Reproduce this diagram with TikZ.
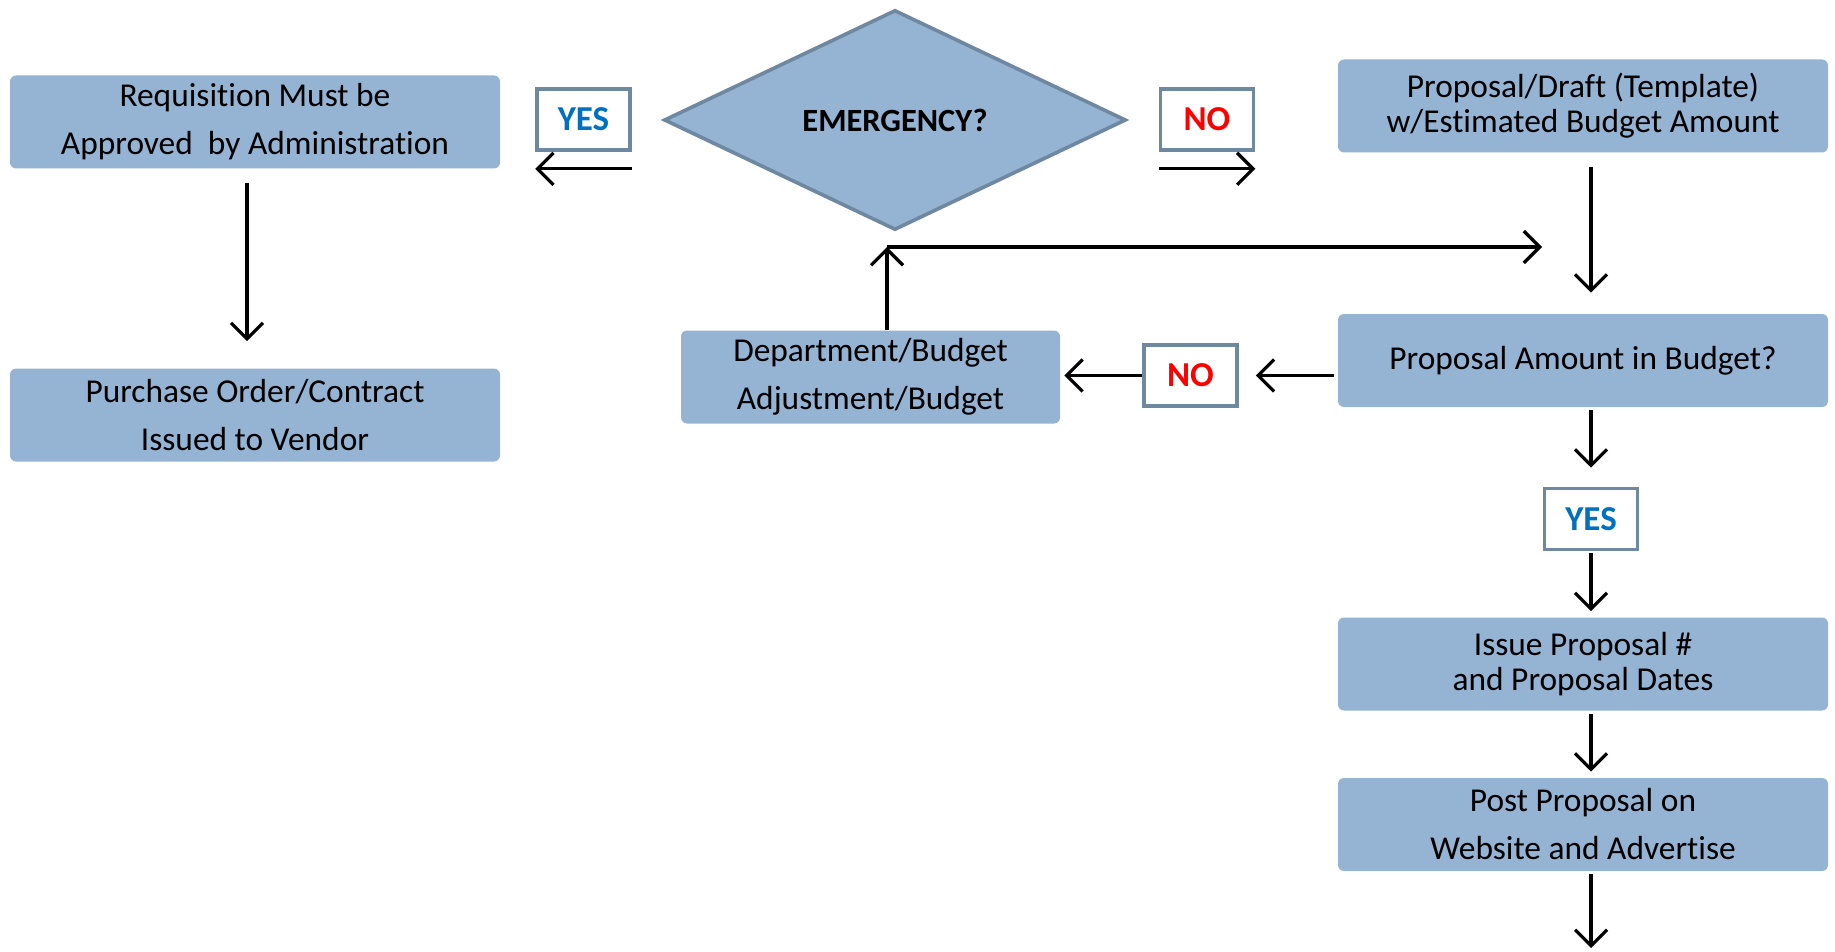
\documentclass[tikz,border=0pt]{standalone}
\usepackage{fontspec}
\setmainfont[Ligatures=NoCommon]{Carlito}
\usetikzlibrary{positioning,shapes.geometric,arrows.meta}
\definecolor{boxBlue}{HTML}{95B3D2}
\definecolor{boxEdge}{HTML}{6E88A1}
\definecolor{yesBlue}{HTML}{0070C0}
\definecolor{noRed}{HTML}{FF0000}
\tikzset{
    blueBox/.style={fill=boxBlue, rounded corners=3pt, minimum width=245pt, minimum height=46.5pt,
		align=center, inner sep=0pt, font=\fontsize{16.7}{17.5}\selectfont},
    wideLines/.style={font=\fontsize{16.7}{24}\selectfont}
}
\tikzset{
    answerBox/.style={draw=boxEdge, line width=1.8pt, fill=white, minimum width=46.5pt, minimum height=30.5pt,
		inner sep=0pt, font=\fontsize{17.5}{19}\selectfont\bfseries},
    flowArrow/.style={line width=1.6pt, -{Straight Barb[length=8pt, width=16pt]}}
}

\begin{document}
\begin{tikzpicture}[x=0.5pt, y=-0.5pt]
			\useasboundingbox (0,0) rectangle (1835,952);
			\node[blueBox, wideLines] (req) at (255,122) {Requisition Must be\\Approved\ \ by Administration};
			\node[blueBox, wideLines] (purch) at (255,415) {Purchase Order/Contract\\Issued to Vendor};
			\node[diamond, draw=boxEdge, line width=1.8pt, fill=boxBlue, minimum width=231pt, minimum height=110pt,
				inner sep=0pt, font=\fontsize{16.2}{19}\selectfont\bfseries] (emerg) at (895,120) {EMERGENCY?};
			\node[answerBox, text=yesBlue] (yesA) at (583.5,119.5) {YES};
			\node[answerBox, text=noRed] (noA) at (1207,119.5) {NO};
			\node[blueBox] (draft) at (1583,106) {Proposal/Draft (Template)\\w/Estimated Budget Amount};
			\node[blueBox] (amount) at (1583,360.5) {Proposal Amount in Budget?};
			\node[answerBox, text=noRed] (noB) at (1190.5,375.5) {NO};
			\node[blueBox, wideLines, minimum width=189.5pt] (dept) at (870.5,377) {Department/Budget\\Adjustment/Budget};
			\node[answerBox, text=yesBlue] (yesB) at (1591,519) {YES};
			\node[blueBox] (issue) at (1583,664) {Issue Proposal \#\\and Proposal Dates};
			\node[blueBox, wideLines] (post) at (1583,824.5) {Post Proposal on\\Website and Advertise};
			\coordinate (loopCorner) at (887,247);
			\coordinate (loopEnd) at (1542,247);
			\coordinate (postOut) at (1591,948);
			% emergency branches
			\draw[flowArrow] ([yshift=-8.5pt]yesA.south east) -- ([yshift=-8.5pt]yesA.south west);
			\draw[flowArrow] ([yshift=-8.5pt]noA.south west) -- ([yshift=-8.5pt]noA.south east);
			\draw[flowArrow, shorten <=7pt, shorten >=13.5pt] ([xshift=-4pt]req.south) -- ([xshift=-4pt]purch.north);
			\draw[flowArrow, shorten <=7pt, shorten >=10.5pt] (draft.south -| yesB) -- (amount.north -| yesB);
			\draw[flowArrow, shorten <=2pt, shorten >=8.5pt] (noB.east -| amount.west) -- (noB.east);
			\draw[flowArrow, shorten >=2pt] (noB.west) -- (noB.west -| dept.east);
			\draw[flowArrow] (dept.north -| loopCorner) -- (loopCorner);
			\draw[flowArrow] (loopCorner) -- (loopEnd);
			\draw[flowArrow, shorten <=1.5pt, shorten >=9.5pt] (amount.south -| yesB) -- (yesB.north);
			\draw[flowArrow, shorten <=1pt, shorten >=3pt] (yesB.south) -- (issue.north -| yesB);
			\draw[flowArrow, shorten <=1.5pt, shorten >=3pt] (issue.south -| yesB) -- (post.north -| yesB);
			\draw[flowArrow, shorten <=1.5pt] (post.south -| yesB) -- (postOut);
\end{tikzpicture}
\end{document}
